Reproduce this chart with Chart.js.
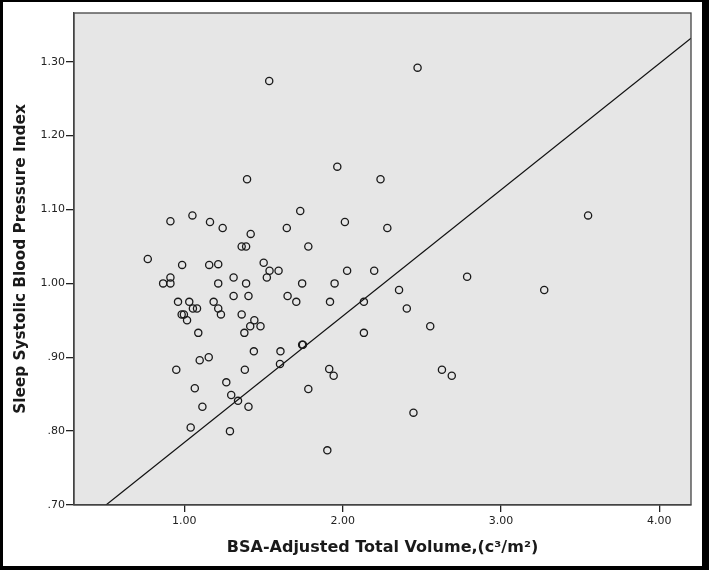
<!DOCTYPE html>
<html>
<head>
<meta charset="utf-8">
<script src="https://cdn.jsdelivr.net/npm/chart.js@4"></script>
<style>
  html, body { margin: 0; padding: 0; background: #fff; }
  #wrap { width: 709px; height: 570px; }
</style>
</head>
<body>
<div id="wrap"><canvas id="myChart" width="709" height="570"></canvas></div>
<script>
// values
var volume = [0.769,0.866,0.912,0.912,0.912,0.986,0.960,0.983,0.997,1.017,1.031,1.051,1.054,1.080,1.088,1.097,0.949,1.066,1.114,1.040,
  1.154,1.162,1.157,1.214,1.214,1.185,1.214,1.231,1.242,1.265,1.296,1.288,1.339,1.311,1.311,1.362,1.390,1.396,1.419,1.390,
  1.405,1.362,1.379,1.416,1.442,1.481,1.439,1.382,1.405,1.501,1.521,1.538,1.536,1.595,1.607,1.604,1.647,1.652,1.707,1.732,
  1.744,1.744,1.749,1.783,1.783,1.915,1.943,1.903,1.920,1.949,1.966,2.014,2.028,2.134,2.134,2.199,2.239,2.282,2.356,2.405,
  2.447,2.473,2.553,2.627,2.689,2.786,3.273,3.550];
var pressureIndex = [1.033,1.000,1.000,1.008,1.084,1.025,0.975,0.958,0.958,0.950,0.975,1.092,0.966,0.966,0.933,0.896,0.883,0.858,0.833,0.805,
  0.900,1.083,1.025,1.026,1.000,0.975,0.966,0.958,1.075,0.866,0.849,0.800,0.841,1.008,0.983,1.050,1.050,1.141,1.067,1.000,
  0.983,0.958,0.933,0.942,0.950,0.942,0.908,0.883,0.833,1.028,1.008,1.017,1.274,1.017,0.908,0.891,1.075,0.983,0.975,1.098,
  1.000,0.917,0.917,1.050,0.857,0.884,0.875,0.774,0.975,1.000,1.158,1.083,1.017,0.975,0.933,1.017,1.141,1.075,0.991,0.966,
  0.825,1.292,0.942,0.883,0.875,1.009,0.991,1.092];

// fit line end points
var fitX = [0.505, 4.20];
var fitY = [0.700, 1.332];

var xTickValues = [1, 2, 3, 4];
var xTickLabels = ['1.00', '2.00', '3.00', '4.00'];
var yTickValues = [0.7, 0.8, 0.9, 1.0, 1.1, 1.2, 1.3];
var yTickLabels = ['.70', '.80', '.90', '1.00', '1.10', '1.20', '1.30'];

var points = volume.map(function (v, i) { return { x: v, y: pressureIndex[i] }; });
var fitLine = fitX.map(function (v, i) { return { x: v, y: fitY[i] }; });

var frame = {
  id: 'frame',
  beforeDraw: function (chart) {
    var c = chart.ctx, a = chart.chartArea;
    c.save();
    c.fillStyle = '#000';
    c.fillRect(0, 0, chart.width, chart.height);
    c.fillStyle = '#fff';
    c.fillRect(3, 2, 699, 564);
    c.fillStyle = '#e6e6e6';
    c.fillRect(a.left, a.top, a.right - a.left, a.bottom - a.top);
    c.restore();
  },
  afterDraw: function (chart) {
    var c = chart.ctx, a = chart.chartArea;
    c.save();
    c.strokeStyle = '#444';
    c.lineWidth = 1.3;
    c.strokeRect(a.left, a.top, a.right - a.left, a.bottom - a.top);
    c.restore();
  }
};

var tickFont = { family: 'DejaVu Sans', size: 11 };

new Chart('myChart', {
  type: 'scatter',
  data: {
    datasets: [{
      label: 'cases',
      data: points,
      pointRadius: 3.6,
      pointBorderWidth: 1.3,
      pointBorderColor: '#1a1a1a',
      pointBackgroundColor: 'rgba(0,0,0,0)',
      pointHoverRadius: 3.6
    }, {
      type: 'line',
      label: 'fit',
      data: fitLine,
      borderColor: '#111',
      borderWidth: 1.2,
      pointRadius: 0,
      fill: false
    }]
  },
  plugins: [frame],
  options: {
    responsive: false,
    animation: false,
    layout: { padding: { left: 0, right: 18, top: 13, bottom: 0 } },
    plugins: { legend: { display: false }, tooltip: { enabled: false } },
    scales: {
      x: {
        type: 'linear',
        min: 0.303,
        max: 4.2,
        afterFit: function (s) { s.height = 65; },
        afterBuildTicks: function (s) { s.ticks = xTickValues.map(function (v) { return { value: v }; }); },
        grid: { drawOnChartArea: false, drawTicks: true, tickLength: 7, color: '#222', lineWidth: 1.3 },
        border: { display: true, color: '#444', width: 1.3 },
        ticks: {
          font: tickFont, color: '#222', padding: 3, maxRotation: 0,
          callback: function (v, i) { return xTickLabels[i]; }
        },
        title: {
          display: true,
          text: 'BSA-Adjusted Total Volume,(c\u00b3/m\u00b2)',
          font: { family: 'DejaVu Sans', size: 16, weight: 'bold' },
          color: '#1a1a1a',
          padding: { top: 0, bottom: 13 }
        }
      },
      y: {
        type: 'linear',
        min: 0.7,
        max: 1.366,
        afterFit: function (s) { s.width = 74; },
        afterBuildTicks: function (s) { s.ticks = yTickValues.map(function (v) { return { value: v }; }); },
        grid: { drawOnChartArea: false, drawTicks: true, tickLength: 8, color: '#222', lineWidth: 1.3 },
        border: { display: true, color: '#444', width: 1.3 },
        ticks: {
          font: tickFont, color: '#222', padding: 1,
          callback: function (v, i) { return yTickLabels[i]; }
        },
        title: {
          display: true,
          text: 'Sleep Systolic Blood Pressure Index',
          font: { family: 'DejaVu Sans', size: 15.3, weight: 'bold' },
          color: '#1a1a1a',
          padding: { top: 12, bottom: 0 }
        }
      }
    }
  }
});
</script>
</body>
</html>
